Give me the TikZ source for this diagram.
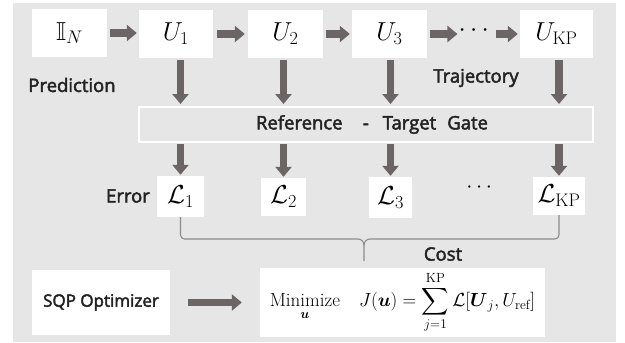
\documentclass[tikz,border=0pt]{standalone}
\usepackage{fix-cm}
\usepackage{amsmath,amssymb}
\usepackage{fontspec}
\newfontfamily\lab[FakeBold=2.5]{Open Sans}
\usetikzlibrary{arrows.meta,calc}
\definecolor{bggray}{RGB}{230,230,230}
\definecolor{arrgray}{RGB}{108,101,101}
\definecolor{bracegray}{RGB}{140,140,140}
\definecolor{txt}{RGB}{34,34,34}
\tikzset{
  wbox/.style={fill=white,draw=none,inner sep=0pt,font=\fontsize{26}{30}\selectfont},
  lbl/.style={inner sep=0pt,text=txt,font=\lab\fontsize{18.5}{22}\selectfont},
  arr/.style={draw=arrgray,line width=7.5pt,-{Triangle[length=10pt,width=16pt]}},
  bracel/.style={draw=bracegray,line width=1.1pt,rounded corners=4pt},
}
\begin{document}
\begin{tikzpicture}[x=1pt,y=-1pt]
\useasboundingbox (0,0) rectangle (625,343);
\fill[bggray] (13,3) rectangle (616,342);
% top row
\node[wbox,minimum width=75pt,minimum height=48pt] (IN) at (69.5,33) {$\mathbb{I}_N$};
\node[wbox,minimum width=74pt,minimum height=48pt] (U1) at (176,34) {$U_1$};
\node[wbox,minimum width=75pt,minimum height=48pt] (U2) at (285.5,34) {$U_2$};
\node[wbox,minimum width=75pt,minimum height=48pt] (U3) at (389.5,34) {$U_3$};
\node[inner sep=0pt,font=\fontsize{26}{30}\selectfont] (dots) at (476,31) {$\cdots$};
\node[wbox,minimum width=73pt,minimum height=48pt] (UKP) at (556.5,34) {$U_{\mathrm{KP}}$};
% reference box
\node[draw=white,line width=2pt,fill=bggray,minimum width=454pt,minimum height=35pt,inner sep=0pt] (ref) at (366,124.5) {};
\node[lbl] (reftxt) at (372,124.5) {Reference\hspace{1.1em}-\hspace{0.75em}Target\hspace{0.6em}Gate};
% L row
\node[wbox,minimum width=47pt,minimum height=41pt] (L1) at (180.5,196.5) {$\mathcal{L}_1$};
\node[wbox,minimum width=45pt,minimum height=38pt] (L2) at (283.5,197) {$\mathcal{L}_2$};
\node[wbox,minimum width=43pt,minimum height=41pt] (L3) at (390.5,197.5) {$\mathcal{L}_3$};
\node[inner sep=0pt,font=\fontsize{22}{26}\selectfont] (ldots) at (481,188) {$\cdots$};
\node[wbox,minimum width=52pt,minimum height=38pt] (LKP) at (559,196) {$\mathcal{L}_{\mathrm{KP}}$};
% labels
\node[lbl] (pred) at (72,85) {Prediction};
\node[lbl] (traj) at (476,78) {Trajectory};
\node[lbl] (err) at (128,196) {Error};
\node[lbl] (cost) at (443,254) {Cost};
% bottom row
\node[wbox,fill=white,minimum width=138pt,minimum height=65pt,text=txt,font=\lab\fontsize{17}{20}\selectfont] (sqp) at (101,302.5) {SQP Optimizer};
\node[wbox,minimum width=285pt,minimum height=69pt,font=\fontsize{19}{22}\selectfont] (minb) at (402.5,302.5)
  {$\displaystyle \underset{\boldsymbol{u}}{\mathrm{Minimize}}\quad J(\boldsymbol{u})=\sum_{j=1}^{\mathrm{KP}}\mathcal{L}[\boldsymbol{U}_j,U_{\mathrm{ref}}]$};
% horizontal arrows
\draw[arr,shorten <=3pt,shorten >=2pt] (IN.east) -- (U1.west |- IN.east);
\draw[arr,shorten <=4pt,shorten >=3pt] (U1.east) -- (U2.west);
\draw[arr,shorten <=3pt,shorten >=2pt] (U2.east) -- (U3.west);
\draw[arr,shorten <=3pt,shorten >=1pt] (U3.east) -- (dots.west |- U3.east);
\draw[arr,shorten <=2pt,shorten >=2pt] (dots.east |- UKP.west) -- (UKP.west);
% vertical arrows
\foreach \u/\l in {U1/L1,U2/L2,U3/L3,UKP/LKP}{
  \draw[arr,shorten <=2pt,shorten >=2pt] (\u.south -| \l) -- (ref.north -| \l);
  \draw[arr,shorten <=1pt,shorten >=1pt] (ref.south -| \l) -- (\l.north);
}
% brace
\coordinate (bm) at (364,239);
\coordinate (bl) at (358,239);
\coordinate (br) at (370,239);
\coordinate (bd) at (364,245);
\coordinate (bt) at (364,261);
\draw[bracel] (L1.south) -- (L1.south |- bm) -- (bl);
\draw[draw=bracegray,line width=1.1pt] (bl) to[out=0,in=90] (bd) -- (bt);
\draw[bracel] (LKP.south) -- (LKP.south |- bm) -- (br);
\draw[draw=bracegray,line width=1.1pt] (br) to[out=180,in=90] (bd);
% bottom arrow
\draw[arr,shorten <=18pt,shorten >=18pt] (sqp.east) -- (minb.west);
\end{tikzpicture}
\end{document}
